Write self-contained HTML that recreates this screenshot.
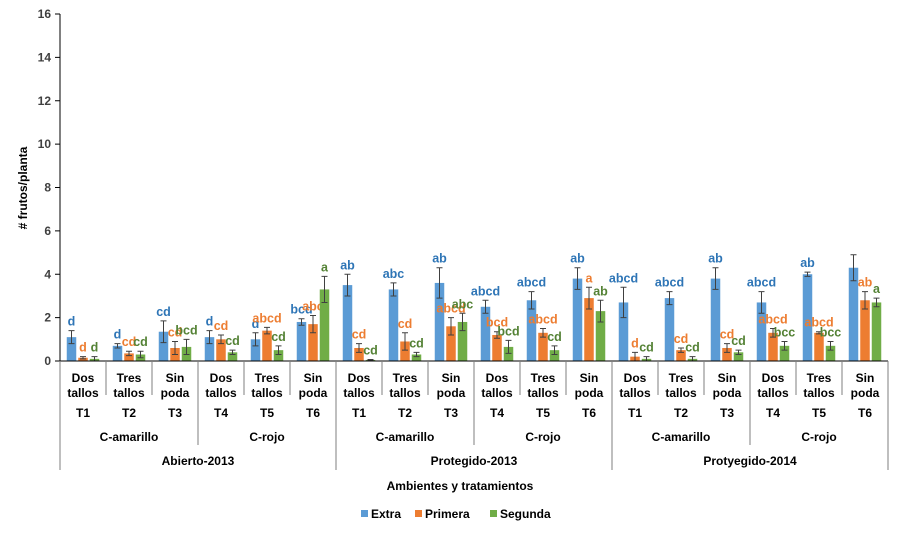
<!DOCTYPE html>
<html><head><meta charset="utf-8"><style>
body{margin:0;background:#fff;font-family:"Liberation Sans",Arial,sans-serif}
svg text{font-family:"Liberation Sans",Arial,sans-serif}
</style></head><body>
<svg id="c" width="900" height="541" xmlns="http://www.w3.org/2000/svg"></svg>
<script>
const treatments=["Dos tallos","Tres tallos","Sin poda","Dos tallos","Tres tallos","Sin poda","Dos tallos","Tres tallos","Sin poda","Dos tallos","Tres tallos","Sin poda","Dos tallos","Tres tallos","Sin poda","Dos tallos","Tres tallos","Sin poda"];
const codes=["T1","T2","T3","T4","T5","T6","T1","T2","T3","T4","T5","T6","T1","T2","T3","T4","T5","T6"];
const colorGroups=["C-amarillo","C-rojo","C-amarillo","C-rojo","C-amarillo","C-rojo"];
const environments=["Abierto-2013","Protegido-2013","Protyegido-2014"];
const seriesNames=["Extra","Primera","Segunda"];
const extra=[1.1,0.7,1.35,1.1,1.0,1.8,3.5,3.3,3.6,2.5,2.8,3.8,2.7,2.9,3.8,2.7,4.0,4.3];
const extraErr=[0.3,0.1,0.5,0.3,0.3,0.15,0.5,0.3,0.7,0.3,0.4,0.5,0.7,0.3,0.5,0.5,0.1,0.6];
const primera=[0.15,0.35,0.6,1.0,1.4,1.7,0.6,0.9,1.6,1.2,1.3,2.9,0.2,0.5,0.6,1.3,1.3,2.8];
const primeraErr=[0.05,0.1,0.3,0.2,0.15,0.4,0.2,0.4,0.4,0.15,0.2,0.5,0.2,0.1,0.2,0.2,0.05,0.4];
const segunda=[0.1,0.3,0.65,0.4,0.5,3.3,0.05,0.3,1.8,0.65,0.5,2.3,0.1,0.1,0.4,0.7,0.7,2.7];
const segundaErr=[0.1,0.15,0.35,0.1,0.2,0.6,0.02,0.1,0.4,0.3,0.2,0.5,0.1,0.1,0.1,0.2,0.2,0.2];
const extraLbl=["d","d","cd","d","d","bcd","ab","abc","ab","abcd","abcd","ab","abcd","abcd","ab","abcd","ab",""];
const primeraLbl=["d","cd","cd","cd","abcd","abc","cd","cd","abcd","bcd","abcd","a","d","cd","cd","abcd","abcd","ab"];
const segundaLbl=["d","cd","bcd","cd","cd","a","cd","cd","abc","bcd","cd","ab","cd","cd","cd","bcc","bcc","a"];
const yTicks=[0,2,4,6,8,10,12,14,16];

const svg=document.getElementById('c');
const NS="http://www.w3.org/2000/svg";
function mk(t,a,txt){const e=document.createElementNS(NS,t);for(const k in a)e.setAttribute(k,a[k]);if(txt!==undefined)e.textContent=txt;svg.appendChild(e);return e;}
const x0=60,x1=888,y0=361,yTop=14,yMax=16;
const gw=(x1-x0)/treatments.length;
const perColor=treatments.length/colorGroups.length, perEnv=treatments.length/environments.length;
const Y=v=>y0-(y0-yTop)*v/yMax;
const GX=i=>x0+gw*i+gw/2;
const fills=["#5b9bd5","#ed7d31","#70ad47"];
const tcol=["#2e75b6","#ed7d31","#548235"];
const vals=[extra,primera,segunda],errs=[extraErr,primeraErr,segundaErr],lbls=[extraLbl,primeraLbl,segundaLbl];
let e=mk('line',{x1:x0,y1:yTop,x2:x0,y2:y0,stroke:'#000','stroke-width':1});

yTicks.forEach(t=>{
 let l=mk('line',{x1:x0-5,y1:Y(t),x2:x0,y2:Y(t),stroke:'#000'});
 
 let tx=mk('text',{x:x0-9,y:Y(t)+4,'text-anchor':'end','font-size':12,'font-weight':'bold',fill:'#404040'},t);
 
});
e=mk('text',{x:0,y:0,transform:'translate(27,188) rotate(-90)','text-anchor':'middle','font-size':12,'font-weight':'bold',fill:'#000'},'# frutos/planta');

const bw=9.5;
treatments.forEach((_,i)=>{
 for(let s=0;s<3;s++){
  const cx=GX(i)+(s-1)*11.5;
  const v=vals[s][i],er=errs[s][i];
  let r=mk('rect',{x:cx-bw/2,y:Y(v),width:bw,height:y0-Y(v),fill:fills[s]});
  
  const top=Y(v+er),bot=Y(Math.max(0,v-er));
  let eb=mk('path',{d:`M${cx},${top}V${bot}M${cx-3},${top}H${cx+3}M${cx-3},${bot}H${cx+3}`,stroke:'#404040','stroke-width':1,fill:'none'});
  
  if(lbls[s][i]){let t=mk('text',{x:cx,y:top-5,'text-anchor':'middle','font-size':12.5,'font-weight':'bold',fill:tcol[s]},lbls[s][i]);
  }
 }
});
e=mk('line',{x1:x0,y1:y0,x2:x1,y2:y0,stroke:'#000'});

for(let i=0;i<=treatments.length;i++){
 const x=x0+gw*i;const len=(i%perEnv===0)?470:(i%perColor===0)?445:395;
 let l=mk('line',{x1:x,y1:y0,x2:x,y2:len,stroke:'#7f7f7f'});
 
}
treatments.forEach((t,i)=>{
 const w=t.split(' ');
 let a=mk('text',{x:GX(i),y:382,'text-anchor':'middle','font-size':12,'font-weight':'bold',fill:'#000'},w[0]);
 
 let b=mk('text',{x:GX(i),y:397,'text-anchor':'middle','font-size':12,'font-weight':'bold',fill:'#000'},w[1]);
 
 let c=mk('text',{x:GX(i),y:417,'text-anchor':'middle','font-size':12,'font-weight':'bold',fill:'#000'},codes[i]);
 
});
colorGroups.forEach((g,i)=>{
 let t=mk('text',{x:x0+gw*perColor*(i+0.5),y:441,'text-anchor':'middle','font-size':12,'font-weight':'bold',fill:'#000'},g);
 
});
environments.forEach((g,i)=>{
 let t=mk('text',{x:x0+gw*perEnv*(i+0.5),y:465,'text-anchor':'middle','font-size':12,'font-weight':'bold',fill:'#000'},g);
 
});
e=mk('text',{x:460,y:490,'text-anchor':'middle','font-size':12,'font-weight':'bold',fill:'#000'},'Ambientes y tratamientos');

const lx=[361,415,490];
seriesNames.forEach((n,s)=>{
 let r=mk('rect',{x:lx[s],y:510,width:7,height:7,fill:fills[s]});
 
 let t=mk('text',{x:lx[s]+10,y:518,'font-size':12,'font-weight':'bold',fill:'#000'},n);
 
});
</script>
</body></html>
